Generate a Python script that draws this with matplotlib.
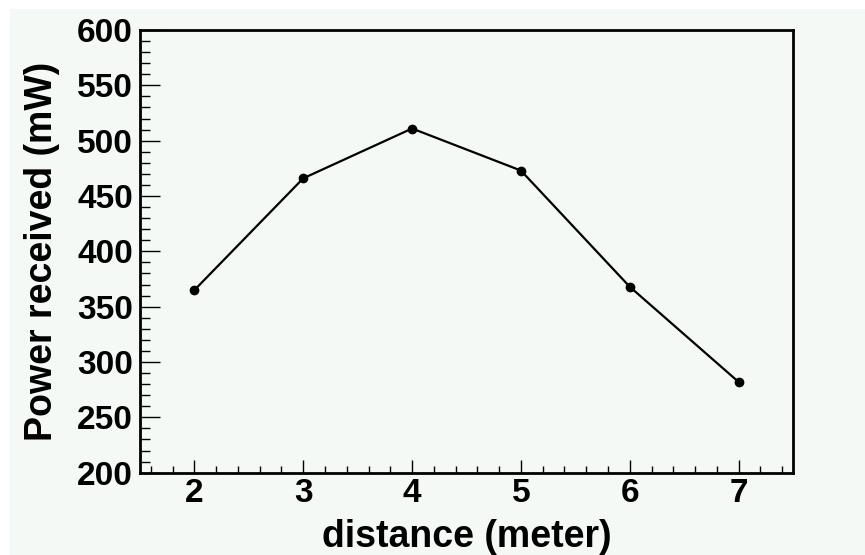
import matplotlib
matplotlib.use("Agg")
import matplotlib.pyplot as plt
from matplotlib.patches import Rectangle
from matplotlib.ticker import MultipleLocator

distance = [2, 3, 4, 5, 6, 7]
power = [365, 466, 511, 473, 368, 282]
x_label = "distance (meter)"
y_label = "Power received (mW)"

W, H = 865, 555
bg = "#f4f9f6"
plt.rcParams['font.family'] = ['Liberation Sans', 'DejaVu Sans']

fig = plt.figure(figsize=(W / 100, H / 100), dpi=100, facecolor="white")
fig.patches.append(Rectangle((10 / W, 0), 1 - 10 / W, 1 - 9 / H, transform=fig.transFigure,
                             facecolor=bg, edgecolor="none", zorder=-10))

left, right, top, bottom = 140, 793, 30, 472.7
ax = fig.add_axes([left / W, (H - bottom) / H, (right - left) / W, (bottom - top) / H])
ax.set_facecolor(bg)

ax.plot(distance, power, color="black", lw=1.6, marker="o", markersize=6, zorder=3)

ax.set_xlim(1.5, 7.5)
ax.set_ylim(200, 600)
ax.xaxis.set_major_locator(MultipleLocator(1))
ax.xaxis.set_minor_locator(MultipleLocator(0.2))
ax.yaxis.set_major_locator(MultipleLocator(50))
ax.yaxis.set_minor_locator(MultipleLocator(10))

for s in ax.spines.values():
    s.set_linewidth(2.0)
    s.set_color("black")

ax.tick_params(axis="x", which="major", direction="in", length=9.4, width=1.0, pad=4,
               labelsize=24, top=False)
ax.tick_params(axis="x", which="minor", direction="in", length=5.4, width=1.0, top=False)
ax.tick_params(axis="y", which="major", direction="in", length=14.4, width=1.0, pad=5,
               labelsize=24, right=False)
ax.tick_params(axis="y", which="minor", direction="in", length=7.2, width=1.0, right=False)
for lab in ax.get_xticklabels() + ax.get_yticklabels():
    lab.set_fontweight("bold")

ax.set_xlabel(x_label, fontsize=27, fontweight="bold")
ax.set_ylabel(y_label, fontsize=27, fontweight="bold")
ax.xaxis.set_label_coords(0.5, -0.104)
ax.yaxis.set_label_coords(-0.122, 0.5)

fig.savefig("out.png", dpi=100, facecolor="white")
